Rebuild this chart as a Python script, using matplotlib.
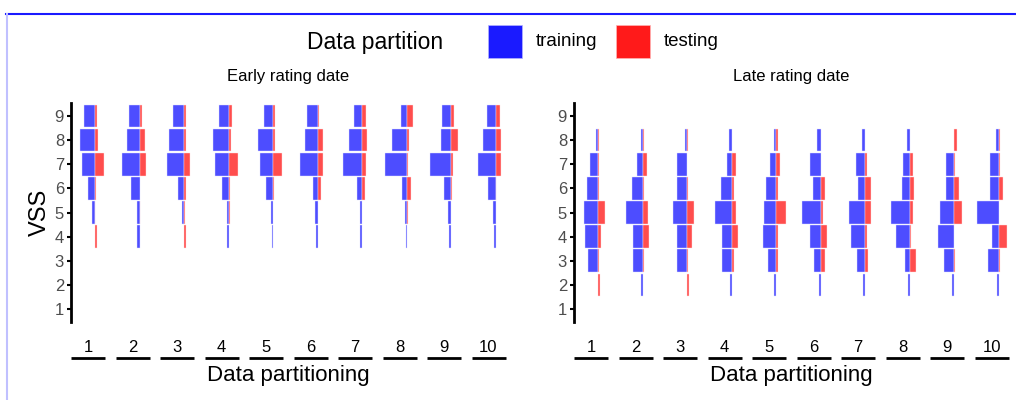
import matplotlib
matplotlib.use('Agg')
import matplotlib.pyplot as plt
from matplotlib.lines import Line2D
from matplotlib.patches import Rectangle

plt.rcParams['font.family'] = ['Liberation Sans', 'DejaVu Sans']

# VSS levels and partitions
vss_levels = [1, 2, 3, 4, 5, 6, 7, 8, 9]
partitions = [1, 2, 3, 4, 5, 6, 7, 8, 9, 10]

# bar lengths per partition, one value per VSS level (1..9)
early_train = [
    [0, 0, 0, 0, 8, 22, 40, 45, 33],
    [0, 0, 0, 7, 7, 27, 52, 38, 32],
    [0, 0, 0, 0, 6, 17, 50, 46, 32],
    [0, 0, 0, 5, 6, 21, 40, 48, 28],
    [0, 0, 0, 4, 7, 20, 40, 45, 28],
    [0, 0, 0, 5, 9, 14, 54, 37, 33],
    [0, 0, 0, 6, 7, 16, 58, 38, 25],
    [0, 0, 0, 3, 4, 13, 65, 44, 17],
    [0, 0, 0, 6, 10, 22, 62, 31, 26],
    [0, 0, 0, 6, 8, 24, 52, 37, 25],
]
early_test = [
    [0, 0, 0, 5, 1, 3, 28, 8, 5],
    [0, 0, 0, 0, 2, 0, 18, 16, 6],
    [0, 0, 0, 5, 3, 6, 18, 6, 5],
    [0, 0, 0, 0, 3, 4, 28, 6, 9],
    [0, 0, 0, 0, 0, 4, 28, 7, 7],
    [0, 0, 0, 0, 0, 11, 16, 16, 3],
    [0, 0, 0, 0, 0, 8, 11, 15, 11],
    [0, 0, 0, 0, 5, 13, 4, 8, 20],
    [0, 0, 0, 0, 0, 2, 5, 22, 10],
    [0, 0, 0, 0, 0, 2, 16, 15, 12],
]
late_train = [
    [0, 0, 30, 39, 42, 34, 24, 7, 0],
    [0, 4, 28, 28, 50, 32, 18, 4, 0],
    [0, 0, 31, 31, 43, 31, 29, 6, 0],
    [0, 5, 28, 28, 51, 33, 14, 8, 0],
    [0, 5, 25, 38, 35, 30, 17, 5, 0],
    [0, 5, 19, 31, 57, 24, 31, 12, 0],
    [0, 5, 25, 43, 47, 20, 26, 10, 0],
    [0, 4, 14, 42, 56, 23, 20, 8, 0],
    [0, 5, 30, 48, 43, 25, 25, 0, 0],
    [0, 5, 31, 19, 66, 25, 25, 7, 0],
]
late_test = [
    [0, 5, 4, 9, 22, 3, 4, 3, 0],
    [0, 0, 5, 19, 15, 5, 12, 5, 0],
    [0, 5, 4, 14, 22, 3, 0, 3, 0],
    [0, 0, 6, 19, 13, 6, 12, 0, 0],
    [0, 0, 7, 7, 31, 7, 13, 7, 0],
    [0, 0, 13, 18, 8, 14, 0, 0, 0],
    [0, 0, 8, 6, 19, 19, 5, 0, 0],
    [0, 0, 19, 5, 10, 14, 10, 0, 0],
    [0, 0, 3, 0, 23, 15, 4, 9, 0],
    [0, 0, 4, 26, 0, 12, 4, 4, 0],
]

BLUE = '#4d4dff'
RED = '#ff4d4d'
STEP = 133.5   # facet spacing
FW = 102       # facet width
ZERO = 72      # where training/testing meet inside a facet

fig = plt.figure(figsize=(10.16, 4.0), dpi=100)
W, H = 1016, 400

def panel(left_px, train, test, title):
    ax = fig.add_axes([left_px / W, 1 - 322 / H, 434.5 / W, 219 / H])
    for i, p in enumerate(partitions):
        x0 = i * STEP + ZERO
        # skip empty levels so no outline shows up there
        ys = [y for y, v in zip(vss_levels, train[i]) if v > 0]
        vs = [-v for v in train[i] if v > 0]
        ax.barh(ys, vs, left=x0, height=0.93, color=BLUE, edgecolor='#e0e0ff', lw=0.3)
        ys = [y for y, v in zip(vss_levels, test[i]) if v > 0]
        vs = [v for v in test[i] if v > 0]
        ax.barh(ys, vs, left=x0, height=0.93, color=RED, edgecolor='#ffe0e0', lw=0.3)
        ax.plot([i * STEP, i * STEP + FW], [-0.165, -0.165], transform=ax.get_xaxis_transform(),
                color='black', lw=2, clip_on=False, solid_capstyle='butt')
    ax.set_xlim(0, 9 * STEP + FW)
    ax.set_ylim(0.45, 9.55)
    ax.set_yticks(vss_levels)
    ax.set_xticks([i * STEP + FW / 2 for i in range(10)], [str(p) for p in partitions])
    ax.tick_params(axis='x', length=0, pad=13, labelsize=12, labelcolor='black')
    ax.tick_params(axis='y', length=3, width=1.5, labelsize=12, labelcolor='#4d4d4d', pad=2)
    for s in ['top', 'right', 'bottom']:
        ax.spines[s].set_visible(False)
    ax.spines['left'].set_linewidth(2)
    ax.text(0.5, 1.085, title, transform=ax.transAxes, ha='center', va='bottom', fontsize=12)
    ax.text(0.5, -0.245, 'Data partitioning', transform=ax.transAxes, ha='center', va='center',
            fontsize=16)
    return ax

ax1 = panel(71, early_train, early_test, 'Early rating date')
ax2 = panel(574, late_train, late_test, 'Late rating date')
ax1.set_ylabel('VSS', fontsize=17, labelpad=3)

# legend
fig.text(375 / W, 1 - 42 / H, 'Data partition', ha='center', va='center', fontsize=16.5)
fig.add_artist(Rectangle((488 / W, 1 - 58 / H), 34 / W, 33 / H, transform=fig.transFigure,
                         facecolor='#1a1aff', edgecolor='#b3b3ff', lw=0.5))
fig.text(536 / W, 1 - 42 / H, 'training', ha='left', va='center', fontsize=13.5)
fig.add_artist(Rectangle((616 / W, 1 - 58 / H), 34 / W, 33 / H, transform=fig.transFigure,
                         facecolor='#ff1a1a', edgecolor='#ffb3b3', lw=0.5))
fig.text(664 / W, 1 - 42 / H, 'testing', ha='left', va='center', fontsize=13.5)

# frame lines of the screenshot
fig.add_artist(Line2D([6 / W, 1], [1 - 14 / H, 1 - 14 / H], transform=fig.transFigure,
                      color='#1a1aff', lw=1.5))
fig.add_artist(Line2D([6.5 / W, 6.5 / W], [0, 1 - 14 / H], transform=fig.transFigure,
                      color='#c0c0ff', lw=1.5))

fig.savefig('out.png', dpi=100)
